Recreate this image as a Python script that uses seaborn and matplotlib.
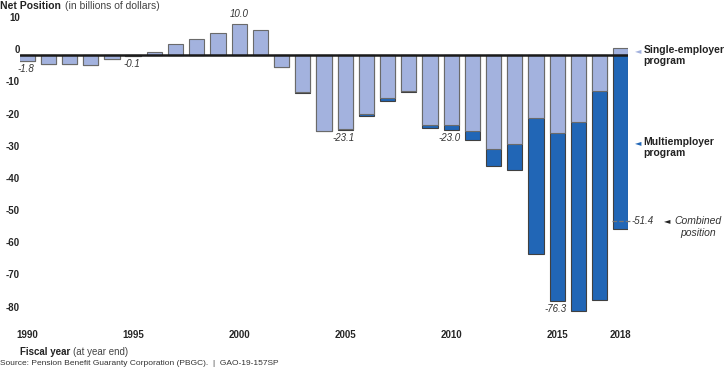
import pandas as pd
import numpy as np
import seaborn as sns
import matplotlib.pyplot as plt
from matplotlib.transforms import ScaledTranslation

# data (billions of dollars)
years = list(range(1990, 2019))
single = [-1.9, -2.6, -2.8, -2.9, -1.3, -0.3, 0.9, 3.5, 5.0, 7.0, 9.8, 7.7, -3.7,
          -11.4, -23.5, -23.0, -18.2, -13.2, -11.0, -21.6, -21.7, -23.5, -29.3, -27.5,
          -19.5, -24.1, -20.8, -11.1, 2.3]
multi = [0.0, 0.0, 0.0, 0.0, 0.0, 0.0, 0.0, 0.0, 0.0, 0.0, 0.0, 0.0, 0.0,
         -0.3, -0.2, -0.3, -0.8, -1.0, -0.5, -0.9, -1.5, -2.8, -5.3, -8.3,
         -42.4, -52.3, -58.8, -65.1, -53.9]
label_years = [1990, 1995, 2000, 2005, 2010, 2015]
label_text = ["-1.8", "-0.1", "10.0", "-23.1", "-23.0", "-76.3"]
combined_2018 = -51.4
tick_years = [1990, 1995, 2000, 2005, 2010, 2015, 2018]
yticks = [10, 0, -10, -20, -30, -40, -50, -60, -70, -80]

light = "#a3b2de"
dark = "#2166b6"

sns.set_theme(style="white")
plt.rcParams['font.family'] = ['Liberation Sans', 'DejaVu Sans']

df = pd.DataFrame({"year": years, "single": single, "multi": multi})
df["neg_total"] = df["single"].clip(upper=0) + df["multi"]

fig = plt.figure(figsize=(7.28, 3.77), dpi=100)
ax = fig.add_axes([0.027, 0.154, 0.836, 0.802])

sns.barplot(data=df, x="year", y="neg_total", color=dark, saturation=1,
            width=0.72, edgecolor="#404040", linewidth=0.8, ax=ax)
sns.barplot(data=df, x="year", y="single", color=light, saturation=1,
            width=0.72, edgecolor="#6a6a6a", linewidth=0.8, ax=ax)
ax.axhline(0, color="#1a1a1a", lw=1.8, zorder=5)

ax.set_xlim(-0.35, 28.35)
ax.set_ylim(-82, 12)
sns.despine(ax=ax, left=True, bottom=True)
ax.set_xlabel("")
ax.set_ylabel("")

pos = {y: i for i, y in enumerate(years)}
ax.set_xticks([pos[y] for y in tick_years])
ax.set_xticklabels([str(y) for y in tick_years], fontsize=7, fontweight="bold")
ax.set_yticks(yticks)
ax.set_yticklabels([str(v) for v in yticks], fontsize=7, fontweight="bold")
ax.tick_params(axis="both", length=0)
ax.tick_params(axis="x", pad=8)
ax.tick_params(axis="y", pad=0)
for lab in ax.get_yticklabels():
    lab.set_transform(lab.get_transform() + ScaledTranslation(0, 0.06, fig.dpi_scale_trans))

# value labels
for yr, txt in zip(label_years, label_text):
    i = pos[yr]
    tot = df.loc[i, "single"] + df.loc[i, "multi"]
    if tot >= 0:
        ax.annotate(txt, (i, tot), xytext=(0, 3), textcoords="offset points",
                    ha="center", va="bottom", fontsize=7, style="italic", color="#333")
    else:
        ax.annotate(txt, (i, min(tot, df.loc[i, "neg_total"])), xytext=(-1, -2),
                    textcoords="offset points", ha="center", va="top",
                    fontsize=7, style="italic", color="#333")

# combined 2018 marker
i18 = pos[2018]
ax.plot([i18 - 0.4, i18 + 0.45], [combined_2018, combined_2018], ls="--",
        color="#777", lw=0.9, zorder=6, clip_on=False)
ax.annotate("-51.4", (i18, combined_2018), xytext=(8, 0), textcoords="offset points",
            ha="left", va="center", fontsize=7, style="italic", color="#333",
            annotation_clip=False)
ax.annotate("\u25c4", (i18, combined_2018), xytext=(31, 0), textcoords="offset points",
            ha="left", va="center", fontsize=6, color="#222",
            family=["DejaVu Sans"], annotation_clip=False)
ax.annotate("Combined\nposition", (i18, combined_2018), xytext=(38.5, 3),
            textcoords="offset points", ha="left", va="top", fontsize=7.5,
            style="italic", color="#333", linespacing=1.15, annotation_clip=False,
            multialignment="center")

# right side legend
fig.text(0.872, 0.865, "\u25c4", fontsize=6, color=light, va="center",
         family=["DejaVu Sans"])
fig.text(0.884, 0.881, "Single-employer\nprogram", fontsize=7.5, fontweight="bold",
         va="top", ha="left", linespacing=1.2, color="#222")
fig.text(0.872, 0.621, "\u25c4", fontsize=6, color=dark, va="center",
         family=["DejaVu Sans"])
fig.text(0.884, 0.637, "Multiemployer\nprogram", fontsize=7.5, fontweight="bold",
         va="top", ha="left", linespacing=1.2, color="#222")

# titles
fig.text(0.0, 0.998, "Net Position", fontsize=7.5, fontweight="bold", va="top", color="#222")
fig.text(0.0895, 0.998, "(in billions of dollars)", fontsize=7.5, va="top", color="#444")
fig.text(0.027, 0.066, "Fiscal year", fontsize=7, fontweight="bold", va="center", color="#222")
fig.text(0.1, 0.066, "(at year end)", fontsize=7, va="center", color="#444")
fig.text(0.0, 0.035, "Source: Pension Benefit Guaranty Corporation (PBGC).  |  GAO-19-157SP",
         fontsize=6, va="center", color="#333")

fig.savefig("out.png", dpi=100)
